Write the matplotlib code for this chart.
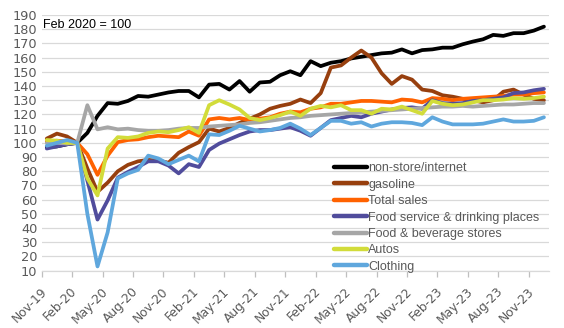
import matplotlib
matplotlib.use("Agg")
import matplotlib.pyplot as plt
import matplotlib.transforms as mtransforms
import numpy as np
import pandas as pd

months = pd.date_range("2019-11-01", periods=50, freq="MS")
tick_labels = ["Nov-19", "Feb-20", "May-20", "Aug-20", "Nov-20", "Feb-21", "May-21",
               "Aug-21", "Nov-21", "Feb-22", "May-22", "Aug-22", "Nov-22", "Feb-23",
               "May-23", "Aug-23", "Nov-23"]

nonstore = [97, 97.5, 99, 100, 107, 119, 128, 127.5, 129.5, 133, 132.5, 134, 135.5, 136.5,
            136.5, 132, 141, 141.5, 137.5, 143.5, 136, 142.5, 143, 147.6, 150.4, 147.6,
            157.5, 154, 156.4, 157.5, 159.4, 160.6, 161.8, 163, 163.5, 165.8, 163, 165.3,
            165.8, 167, 167, 169.4, 171.3, 172.9, 176, 175.3, 177.2, 177.2, 179, 181.8]
gasoline = [103, 106.5, 104.5, 100, 82, 65.5, 72, 80, 84.5, 87, 88, 87.5, 86, 93, 97, 100.5,
            110, 108, 110.5, 114, 117, 120, 124, 126, 127.5, 130.5, 128, 135, 153, 154.5,
            160, 165, 160, 149, 141.5, 147, 144.5, 137.5, 136.5, 133.5, 132.5, 131, 130,
            128.5, 130, 136, 137.5, 134, 131, 130]
total_sales = [101, 101.5, 101, 100, 92, 77.5, 91, 100.5, 102, 102.5, 104, 105, 104.5, 104,
               108, 105, 116.5, 117.5, 116.5, 117.5, 116, 117, 118, 120.5, 122, 121.5, 124,
               125, 127.5, 127.5, 128.5, 129.5, 129.5, 129, 128.5, 130.5, 130, 128.5, 131.5,
               131, 130, 131, 131.5, 132, 132.5, 133, 134, 134, 135, 135.5]
food_service = [96, 97.5, 99, 100, 73.5, 46, 59.5, 75.5, 79.5, 83, 87, 87, 84, 78.5, 85, 83,
                95, 99.5, 102.5, 105.5, 108, 109, 109, 110, 111, 108.5, 105, 110.5, 116,
                117.5, 119, 118, 120.5, 122, 123.5, 124.5, 125, 124, 130, 128, 127.5, 128,
                129.5, 130, 131, 132, 135, 135.5, 137, 138]
food_bev = [100, 100, 99.5, 100, 126.5, 109.5, 111, 109.5, 110, 109, 108.5, 108.5, 109, 110,
            110.5, 110.5, 111.5, 112, 112.5, 113, 114, 114.5, 115.5, 116.5, 117.5, 118, 119,
            119.5, 120, 120.5, 121, 121.5, 122, 122.5, 123, 123.5, 124, 124.5, 125, 125.5,
            125.5, 126, 125.5, 126, 126.5, 127, 127, 127.5, 128, 128]
autos = [102, 101.5, 100, 100, 75, 63, 96, 104, 103.5, 104.5, 107, 108, 107.5, 109, 111, 107,
         126.5, 130, 127, 123.5, 117.5, 116, 117.5, 119.5, 122, 119, 124, 126, 125, 126.5,
         123, 123, 120.5, 124, 123.5, 125.5, 123, 120.5, 129.5, 127.5, 126.5, 127, 128.5,
         130, 130, 130.5, 131.5, 131, 131.5, 132.5]
clothing = [98, 100, 102, 100, 50, 13, 37, 75, 78.5, 81, 91, 89, 85, 88, 91, 87, 106, 105.5,
            108.5, 112, 110, 108, 109, 110.5, 113.5, 110, 105.5, 110.5, 115.5, 115.5, 113.5,
            114.5, 111.5, 113.5, 114.5, 114.5, 114, 112.5, 118, 115, 113, 113, 113, 113.5,
            115, 116.5, 115, 115, 115.5, 118]

series = [
    ("non-store/internet", nonstore, "#000000"),
    ("gasoline", gasoline, "#973F0E"),
    ("Total sales", total_sales, "#FF6200"),
    ("Food service & drinking places", food_service, "#504C9C"),
    ("Food & beverage stores", food_bev, "#A6A6A6"),
    ("Autos", autos, "#D2DC3A"),
    ("Clothing", clothing, "#5FA7DD"),
]

fig = plt.figure(figsize=(5.64, 3.28), dpi=100)
ax = fig.add_axes([41.7 / 564, 1 - 270.7 / 328, (549 - 41.7) / 564, (270.7 - 15) / 328])

x = np.arange(len(months))
for name, vals, col in series:
    ax.plot(x, vals, color=col, lw=2.7, label=name, solid_capstyle="round",
            solid_joinstyle="round")

ax.set_xlim(-0.5, len(months) - 0.5)
ax.set_ylim(10, 190)
ax.set_yticks(np.arange(10, 191, 10))
ax.grid(axis="y", color="#D9D9D9", lw=0.9)
ax.set_axisbelow(True)
for s in ["left", "right", "top"]:
    ax.spines[s].set_visible(False)
ax.spines["bottom"].set_color("#D9D9D9")
ax.spines["bottom"].set_linewidth(0.9)

ticks = np.arange(0, len(months), 3) - 0.5
ax.set_xticks(ticks)
ax.set_xticklabels(tick_labels, rotation=45, ha="right", va="center",
                   rotation_mode="anchor", fontsize=8.8, color="#595959",
                   family="DejaVu Sans")
ax.tick_params(axis="x", length=4, color="#BFBFBF", width=0.9, pad=9.5)
ax.tick_params(axis="y", length=0, pad=3, labelsize=9.3, labelcolor="#595959")
off = mtransforms.ScaledTranslation(3 / 100, 0, fig.dpi_scale_trans)
for lab in ax.get_xticklabels():
    lab.set_transform(lab.get_transform() + off)

fig.text(43 / 564, 1 - 25 / 328, "Feb 2020 = 100", fontsize=9, color="#000000",
         family="Liberation Sans", va="center", ha="left")

leg = fig.legend(loc="upper left", bbox_to_anchor=(334 / 564, 1 - 162.5 / 328),
                 frameon=False, borderaxespad=0, borderpad=0, handlelength=2.6,
                 handletextpad=0.15, labelspacing=0.35,
                 prop={"family": "Liberation Sans", "size": 9})
for t in leg.get_texts():
    t.set_color("#595959")
for h in leg.get_lines():
    h.set_linewidth(3.2)

fig.savefig("out.png", dpi=100)
